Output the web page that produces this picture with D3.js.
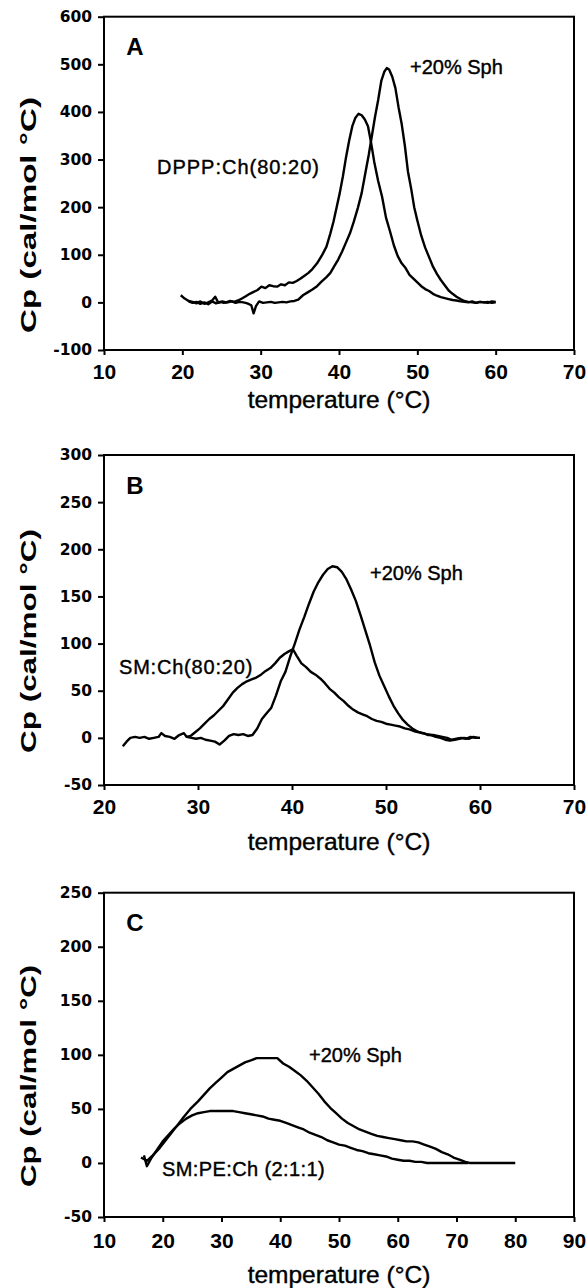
<!DOCTYPE html>
<html>
<head>
<meta charset="utf-8">
<script src="https://cdn.jsdelivr.net/npm/d3@7"></script>
<style>
  body { margin: 0; background: #fff; }
  svg { display: block; }
</style>
</head>
<body>
<svg id="fig" width="588" height="1288"></svg>
<script>
// ---- Panel A: DPPP:Ch (80:20) and +20% Sph ----
const tempA1 = [19.8, 20.3, 20.8, 21.3, 21.8, 22.3, 22.8, 23.3, 23.8, 24.2,
  24.6, 25.1, 25.6, 26.1, 26.6, 27.1, 27.6, 28.1, 28.6, 29.1,
  29.6, 30.1, 30.6, 31.1, 31.6, 32.1, 32.6, 33.1, 33.6, 34.1,
  34.6, 35.1, 35.6, 36.1, 36.6, 37.2, 37.8, 38.4, 38.9, 39.3,
  39.7, 40.1, 40.5, 40.9, 41.3, 41.7, 42.1, 42.5, 42.9, 43.3,
  43.7, 44.1, 44.5, 45.0, 45.5, 46.0, 46.5, 47.0, 47.5, 48.0,
  48.5, 49.0, 49.5, 50.0, 50.5, 51.0, 51.5, 52.0, 52.5, 53.0,
  53.5, 54.0, 54.5, 55.0, 55.5, 56.0, 56.5, 57.0, 57.5, 58.0,
  58.5, 59.0, 59.5, 60.0];
const cpA1 = [15, 8, 3, 1, -2, 2, -3, 0, 4, 12,
  -1, 2, 0, 3, 1, 4, 8, 13, 18, 22,
  26, 33, 30, 36, 34, 33, 38, 36, 42, 41,
  45, 50, 56, 62, 70, 82, 98, 117, 145, 170,
  200, 230, 265, 305, 340, 370, 388, 396, 393, 384,
  370, 335, 295, 255, 222, 178, 150, 120, 97, 82,
  72, 58, 50, 42, 34, 28, 24, 18, 14, 11,
  9, 7, 5, 4, 2, 1, 0, 2, -1, 1,
  0, -1, 2, 1];

const tempA2 = [20.8, 21.3, 21.8, 22.3, 22.8, 23.3, 23.8, 24.3, 24.8, 25.3,
  25.8, 26.3, 26.8, 27.3, 27.8, 28.3, 28.8, 29.1, 29.4, 29.8,
  30.3, 30.8, 31.3, 31.8, 32.3, 32.8, 33.3, 33.8, 34.3, 34.8,
  35.4, 36.0, 36.6, 37.2, 37.8, 38.4, 38.9, 39.4, 39.9, 40.4,
  40.9, 41.4, 41.9, 42.4, 42.9, 43.4, 43.8, 44.2, 44.6, 45.0,
  45.4, 45.8, 46.1, 46.4, 46.8, 47.2, 47.6, 48.0, 48.4, 48.8,
  49.2, 49.6, 50.0, 50.5, 51.0, 51.5, 52.0, 52.5, 53.0, 53.5,
  54.0, 54.5, 55.0, 55.5, 56.0, 56.5, 57.0, 57.5, 58.0, 58.5,
  59.0, 59.5, 60.0];
const cpA2 = [2, -1, 1, -3, 0, -4, 2, -2, 1, -1,
  0, 2, -1, 1, 0, -2, -6, -23, -8, 2,
  -1, 0, 1, -1, 0, 1, 0, 2, 3, 6,
  15, 21, 27, 34, 44, 53, 62, 76, 90, 107,
  126, 145, 170, 198, 230, 275, 310, 350, 390, 425,
  465, 485, 492, 489, 474, 450, 410, 375, 330, 275,
  240, 200, 172, 140, 115, 95, 75, 60, 47, 36,
  25, 18, 12, 7, 3, 1, 0, -1, 1, 0,
  1, -1, 0];

// ---- Panel B: SM:Ch (80:20) and +20% Sph ----
const tempB1 = [22.0, 22.4, 22.8, 23.3, 23.8, 24.3, 24.8, 25.3, 25.8, 26.1,
  26.5, 27.0, 27.5, 28.0, 28.5, 28.8, 29.2, 29.7, 30.2, 30.7,
  31.2, 31.7, 32.2, 32.7, 33.2, 33.7, 34.2, 34.7, 35.2, 35.7,
  36.2, 36.7, 37.2, 37.7, 38.2, 38.7, 39.2, 39.7, 40.1, 40.5,
  41.0, 41.5, 42.0, 42.5, 43.0, 43.5, 44.0, 44.5, 45.0, 45.5,
  46.0, 46.5, 47.0, 47.5, 48.0, 48.5, 49.0, 49.5, 50.0, 50.5,
  51.0, 51.5, 52.0, 52.5, 53.0, 53.5, 54.0,
  54.5, 55.0, 55.5, 56.0, 56.5, 57.0, 57.5, 58.0, 58.5, 59.0, 59.5, 60.0];
const cpB1 = [-9, -4, 0, 1, 0, 1, -1, 0, 1, 5,
  2, 1, -1, 3, 5, 1, 2, 6, 10, 15,
  20, 24, 29, 34, 41, 48, 53, 57, 60, 62,
  64, 67, 71, 74, 79, 85, 89, 92, 94, 87,
  79, 75, 70, 67, 63, 58, 52, 48, 43, 39,
  34, 30, 27, 25, 23, 20, 18, 17, 15, 14,
  13, 12, 10, 9, 7, 6, 5,
  3, 3, 2, 1, 0, -2, -1, 0, -1, 1, 0, 0];

const tempB2 = [28.8, 29.3, 29.8, 30.3, 30.8, 31.3, 31.8, 32.3, 32.8, 33.3,
  33.8, 34.3, 34.8, 35.3, 35.8, 36.3, 36.8, 37.3, 37.8, 38.3,
  38.8, 39.3, 39.8, 40.3, 40.8, 41.3, 41.8, 42.3, 42.8, 43.3,
  43.8, 44.3, 44.8, 45.3, 45.8, 46.3, 46.8, 47.3, 47.8, 48.3,
  48.8, 49.3, 49.8, 50.3, 50.8, 51.3, 51.8, 52.3, 52.8, 53.3,
  53.8, 54.3, 54.8, 55.3, 55.8, 56.3, 56.8, 57.3, 57.8, 58.3,
  58.8, 59.3, 59.8, 60.0];
const cpB2 = [1, 0, -1, 0, -2, -3, -4, -7, -3, 2,
  4, 3, 4, 2, 3, 10, 20, 26, 32, 45,
  60, 70, 86, 100, 115, 128, 142, 155, 165, 173,
  179, 182, 181, 176, 168, 157, 145, 130, 114, 98,
  80, 66, 55, 44, 34, 26, 19, 14, 10, 7,
  5, 4, 3, 1, 0, -2, -3, -2, -1, 0,
  -1, 1, 0, 0];

// ---- Panel C: SM:PE:Ch (2:1:1) and +20% Sph ----
const tempC1 = [16.8, 17.3, 18.0, 19.0, 20.0, 21.0, 22.0, 23.0, 24.0, 25.0,
  26.0, 27.0, 28.0, 29.0, 30.0, 31.0, 32.0, 33.0, 34.0, 35.0,
  36.0, 37.0, 38.0, 39.0, 40.0, 41.0, 42.0, 43.0, 44.0, 45.0,
  46.0, 47.0, 48.0, 49.0, 50.0, 51.0, 52.0, 53.0, 54.0, 55.0,
  56.0, 57.0, 58.0, 59.0, 60.0, 61.0, 62.0, 63.0, 64.0, 65.0,
  66.0, 68.0, 70.0, 72.0];
const cpC1 = [7, -3, 4, 12, 20, 26, 32, 37, 41, 44,
  46, 47, 48, 48, 48, 48, 48, 47, 46, 45,
  44, 43, 41, 40, 39, 37, 35, 33, 31, 28,
  26, 24, 21, 19, 17, 16, 14, 12, 11, 9,
  8, 7, 6, 4, 3, 2, 2, 1, 1, 0,
  0, 0, 0, 0];

const tempC2 = [16.3, 17.3, 18.3, 19.5, 20.5, 21.5, 22.5, 23.5, 24.7, 26.0,
  27.0, 28.0, 29.0, 30.0, 31.0, 32.0, 33.0, 34.0, 35.0, 36.0,
  37.0, 38.0, 39.0, 39.5, 40.5, 41.5, 42.5, 43.5, 44.5, 45.5,
  46.5, 47.5, 48.5, 49.5, 50.5, 51.5, 52.5, 53.5, 54.5, 55.5,
  56.5, 57.5, 58.5, 59.5, 60.5, 61.5, 62.5, 63.5, 64.5, 65.5,
  66.5, 67.5, 68.5, 69.5, 70.5, 71.5, 72.2, 74.0, 76.0, 78.0,
  80.0];
const cpC2 = [5, 2, 7, 14, 21, 28, 35, 42, 50, 57,
  63, 69, 74, 79, 84, 87, 90, 93, 95, 97,
  97, 97, 97, 97, 92, 89, 85, 81, 76, 70,
  64, 57, 51, 46, 41, 37, 34, 31, 29, 27,
  25, 24, 23, 22, 21, 20, 20, 19, 17, 15,
  13, 10, 8, 5, 3, 1, 0, 0, 0, 0,
  0];

const xTicksA = [10, 20, 30, 40, 50, 60, 70];
const yTicksA = [-100, 0, 100, 200, 300, 400, 500, 600];
const xTicksB = [20, 30, 40, 50, 60, 70];
const yTicksB = [-50, 0, 50, 100, 150, 200, 250, 300];
const xTicksC = [10, 20, 30, 40, 50, 60, 70, 80, 90];
const yTicksC = [-50, 0, 50, 100, 150, 200, 250];

const labelSph = "+20% Sph";

const panels = [
  { letter: "A", top: 16.7, bottom: 350, xTicks: xTicksA, yTicks: yTicksA, xPad: 9.5,
    series: [[tempA1, cpA1], [tempA2, cpA2]],
    notes: [{ t: "DPPP:Ch(80:20)", x: 157, y: 174, ls: 1 }, { t: labelSph, x: 410, y: 73.7, ls: 0 }],
    yTitleY: 215, yTitleLen: 236, xTitleY: 408 },
  { letter: "B", top: 455, bottom: 785, xTicks: xTicksB, yTicks: yTicksB, xPad: 9.5,
    series: [[tempB1, cpB1], [tempB2, cpB2]],
    notes: [{ t: "SM:Ch(80:20)", x: 119, y: 674, ls: 0.8 }, { t: labelSph, x: 370, y: 580.3, ls: 0 }],
    yTitleY: 641, yTitleLen: 224, xTitleY: 849.5 },
  { letter: "C", top: 892.7, bottom: 1217, xTicks: xTicksC, yTicks: yTicksC, xPad: 11.5,
    series: [[tempC1, cpC1], [tempC2, cpC2]],
    notes: [{ t: "SM:PE:Ch (2:1:1)", x: 162, y: 1175.5, ls: 0.4 }, { t: labelSph, x: 309, y: 1062, ls: 0 }],
    yTitleY: 1076, yTitleLen: 222, xTitleY: 1283 }
];

const left = 104, right = 574;
const svg = d3.select("#fig");
svg.append("rect").attr("width", 588).attr("height", 1288).attr("fill", "#fff");

panels.forEach(p => {
  const x = d3.scaleLinear()
    .domain(d3.extent(p.xTicks))
    .range([left, right]);
  const y = d3.scaleLinear()
    .domain(d3.extent(p.yTicks))
    .range([p.bottom, p.top]);

  const g = svg.append("g");

  // y axis (outward ticks on the left)
  const gy = g.append("g")
    .attr("transform", `translate(${left},0)`)
    .call(d3.axisLeft(y).tickValues(p.yTicks).tickSize(6).tickPadding(6).tickFormat(d => String(d)));
  gy.select(".domain").remove();
  gy.selectAll("line").attr("stroke", "#000").attr("stroke-width", 2);
  gy.selectAll("text")
    .attr("fill", "#000")
    .style("font-family", "'DejaVu Sans', sans-serif")
    .style("font-weight", "bold")
    .style("font-size", "15.5px");

  // x axis
  const gx = g.append("g")
    .attr("transform", `translate(0,${p.bottom})`)
    .call(d3.axisBottom(x).tickValues(p.xTicks).tickSize(5).tickPadding(p.xPad).tickFormat(d => String(d)));
  gx.select(".domain").remove();
  gx.selectAll("line").attr("stroke", "#000").attr("stroke-width", 2);
  gx.selectAll("text")
    .attr("fill", "#000")
    .style("font-family", "'Liberation Sans', Arial, sans-serif")
    .style("font-weight", "bold")
    .style("font-size", "21px");

  // frame
  g.append("rect")
    .attr("x", left).attr("y", p.top)
    .attr("width", right - left).attr("height", p.bottom - p.top)
    .attr("fill", "none").attr("stroke", "#000").attr("stroke-width", 2);

  // curves
  const line = d3.line().x(d => x(d[0])).y(d => y(d[1]));
  p.series.forEach(([ts, cps]) => {
    g.append("path")
      .datum(ts.map((t, i) => [t, cps[i]]))
      .attr("d", line)
      .attr("fill", "none")
      .attr("stroke", "#000")
      .attr("stroke-width", 2.4)
      .attr("stroke-linejoin", "round");
  });

  // panel letter
  g.append("text")
    .attr("x", 135).attr("y", (p.top + 30) + 8.6)
    .attr("text-anchor", "middle")
    .style("font-family", "'Liberation Sans', Arial, sans-serif")
    .style("font-weight", "bold")
    .style("font-size", "24px")
    .text(p.letter);

  // curve labels (scanned text reads a little heavier than regular)
  p.notes.forEach(n => {
    g.append("text")
      .attr("x", n.x).attr("y", n.y)
      .attr("stroke", "#000").attr("stroke-width", 0.4)
      .style("font-family", "'Liberation Sans', Arial, sans-serif")
      .style("font-size", "20px")
      .style("letter-spacing", n.ls + "px")
      .text(n.t);
  });

  // axis titles
  g.append("text")
    .attr("x", (left + right) / 2).attr("y", p.xTitleY)
    .attr("text-anchor", "middle")
    .attr("stroke", "#000").attr("stroke-width", 0.4)
    .style("font-family", "'Liberation Sans', Arial, sans-serif")
    .style("font-size", "24.5px")
    .text("temperature (°C)");

  g.append("text")
    .attr("transform", `translate(35.5,${p.yTitleY}) rotate(-90)`)
    .attr("text-anchor", "middle")
    .attr("textLength", p.yTitleLen)
    .attr("lengthAdjust", "spacingAndGlyphs")
    .style("font-family", "'Liberation Sans', Arial, sans-serif")
    .style("font-weight", "bold")
    .style("font-size", "22px")
    .text("Cp (cal/mol °C)");
});
</script>
</body>
</html>
